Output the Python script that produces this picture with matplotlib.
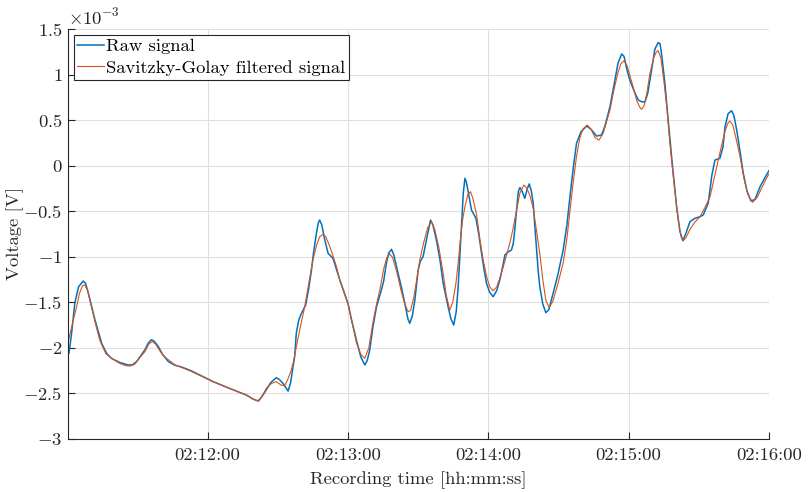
import numpy as np
import pandas as pd
import matplotlib
matplotlib.use("Agg")
import matplotlib.pyplot as plt
import matplotlib.dates as mdates
from matplotlib.ticker import FuncFormatter

# recording start and data (seconds after 02:11:00, voltage in mV)
start = pd.Timestamp("2000-01-01 02:11:00")

raw_t = [0.1, 0.7, 1.8, 3.2, 4.8, 6.8, 7.8, 9.0, 11.8, 14.7, 16.8, 18.9, 22.4, 26.1, 27.9,
         29.6, 31.3, 33.2, 34.8, 36.0, 37.3, 38.9, 40.7, 43.2, 45.9, 48.9, 53.2, 62.3, 69.4,
         76.6, 79.3, 81.5, 83.1, 85.1, 87.0, 89.4, 90.8, 92.2, 94.4, 95.5, 96.5, 97.2, 97.9,
         98.9, 100.1, 101.9, 103.2, 104.4, 105.3, 106.5, 107.3, 107.9, 108.8, 110.1, 111.5,
         113.6, 115.0, 116.5, 118.2, 120.0, 121.6, 123.6, 125.5, 127.2, 128.2, 129.3, 130.6,
         132.2, 134.3, 135.3, 136.4, 137.4, 138.6, 139.6, 141.4, 142.8, 144.3, 145.6, 146.4,
         147.5, 148.6, 150.0, 150.9, 152.1, 153.5, 155.3, 156.3, 157.8, 159.3, 160.7, 162.8,
         164.0, 165.2, 166.3, 167.1, 167.8, 168.5, 169.3, 170.0, 170.6, 171.4, 172.8, 174.7,
         175.9, 177.1, 178.1, 179.2, 180.6, 182.1, 183.6, 184.9, 186.2, 187.1, 188.3, 189.9,
         190.7, 191.3, 192.2, 192.8, 193.5, 194.3, 195.6, 196.7, 197.5, 198.4, 199.2, 199.9,
         201.3, 202.0, 203.3, 204.6, 205.9, 207.7, 209.7, 212.0, 213.6, 214.9, 216.2, 217.7,
         219.6, 222.0, 223.9, 226.3, 228.4, 229.8, 232.0, 233.7, 235.4, 237.0, 238.0, 239.3,
         240.5, 242.3, 244.1, 245.7, 247.0, 248.2, 249.8, 251.2, 252.6, 253.4, 254.2, 255.5,
         256.9, 258.5, 260.5, 261.9, 263.2, 264.5, 266.2, 268.3, 270.5, 271.9, 274.0, 275.6,
         276.9, 279.0, 280.3, 281.2, 282.5, 284.0, 285.0, 286.2, 287.6, 289.0, 290.6, 292.3,
         294.0, 296.2, 298.3, 300.0]
raw_mv = [-2.04, -2.06, -1.85, -1.51, -1.33, -1.266, -1.29, -1.40, -1.69, -1.95, -2.06, -2.115,
          -2.16, -2.188, -2.185, -2.15, -2.09, -2.02, -1.94, -1.91, -1.93, -1.985, -2.07, -2.15,
          -2.19, -2.21, -2.254, -2.37, -2.445, -2.518, -2.56, -2.583, -2.54, -2.46, -2.38,
          -2.327, -2.35, -2.39, -2.474, -2.38, -2.207, -2.1, -1.84, -1.70, -1.62, -1.53, -1.35,
          -1.145, -0.95, -0.743, -0.63, -0.597, -0.65, -0.816, -0.962, -1.017, -1.13, -1.255,
          -1.38, -1.511, -1.70, -1.914, -2.10, -2.188, -2.14, -2.024, -1.78, -1.548, -1.365,
          -1.26, -1.072, -0.96, -0.918, -0.98, -1.18, -1.33, -1.511, -1.68, -1.73, -1.65,
          -1.475, -1.145, -1.05, -1.0, -0.82, -0.597, -0.65, -0.816, -1.03, -1.29, -1.548,
          -1.68, -1.749, -1.60, -1.329, -1.0, -0.67, -0.30, -0.139, -0.18, -0.286, -0.487,
          -0.578, -0.75, -0.962, -1.13, -1.29, -1.39, -1.438, -1.37, -1.255, -1.10, -0.98,
          -0.95, -0.926, -0.85, -0.706, -0.45, -0.286, -0.24, -0.27, -0.358, -0.25, -0.2,
          -0.28, -0.413, -0.67, -1.145, -1.329, -1.52, -1.614, -1.58, -1.4, -1.2, -0.926,
          -0.65, -0.34, -0.05, 0.245, 0.37, 0.435, 0.40, 0.325, 0.336, 0.43, 0.647, 0.88,
          1.12, 1.226, 1.20, 1.05, 0.94, 0.82, 0.72, 0.70, 0.70, 0.80, 1.05, 1.28, 1.35,
          1.34, 1.2, 0.90, 0.5, 0.06, -0.45, -0.72, -0.824, -0.74, -0.615, -0.578, -0.56,
          -0.54, -0.413, -0.1, 0.062, 0.08, 0.2, 0.427, 0.57, 0.603, 0.55, 0.39, 0.16,
          -0.084, -0.28, -0.388, -0.37, -0.23, -0.13, -0.055]

sg_t = [0.1, 1.4, 2.7, 4.0, 5.2, 6.5, 7.5, 8.7, 9.9, 11.8, 13.8, 16.4, 18.9, 22.4, 24.9, 26.8,
        28.8, 30.9, 33.2, 34.8, 36.3, 37.8, 39.5, 41.2, 43.2, 45.9, 48.9, 53.2, 62.3, 69.4,
        76.6, 79.7, 81.9, 83.5, 85.2, 87.3, 89.4, 91.5, 92.9, 94.2, 95.8, 96.8, 97.9, 99.4,
        101.5, 103.2, 105.0, 106.6, 107.9, 109.3, 110.5, 111.8, 113.6, 115.2, 116.5, 118.2,
        120.0, 122.0, 123.7, 125.5, 127.2, 128.9, 130.6, 132.2, 133.6, 135.3, 136.6, 137.9,
        139.1, 140.9, 142.6, 144.3, 145.7, 146.8, 148.1, 149.4, 150.7, 152.4, 154.1, 155.7,
        157.1, 158.8, 160.7, 162.0, 163.5, 164.8, 166.1, 167.1, 168.2, 169.1, 170.0, 171.2,
        172.4, 173.4, 175.0, 176.4, 177.8, 179.4, 180.6, 182.1, 183.6, 185.4, 187.8, 189.2,
        190.5, 192.1, 193.5, 195.2, 196.5, 197.8, 199.2, 200.5, 202.0, 203.3, 204.6, 206.0,
        207.6, 209.7, 212.0, 213.6, 214.9, 216.2, 217.7, 219.1, 220.4, 222.3, 223.9, 225.6,
        227.3, 229.0, 230.3, 232.0, 233.7, 235.4, 236.7, 238.0, 239.3, 240.5, 241.9, 243.5,
        244.8, 245.5, 246.5, 247.8, 249.1, 250.8, 251.9, 252.6, 253.8, 255.1, 256.4, 257.6,
        259.4, 261.1, 262.4, 263.3, 264.5, 266.2, 268.3, 270.5, 272.6, 274.8, 276.9, 279.0,
        281.2, 282.5, 283.3, 284.6, 285.9, 287.6, 289.3, 291.0, 293.0, 294.9, 297.0, 298.7,
        300.0]
sg_mv = [-1.97, -1.82, -1.68, -1.548, -1.40, -1.32, -1.31, -1.37, -1.50, -1.71, -1.91, -2.06,
         -2.115, -2.17, -2.195, -2.2, -2.18, -2.11, -2.04, -1.96, -1.93, -1.96, -2.03, -2.09,
         -2.13, -2.185, -2.215, -2.26, -2.37, -2.445, -2.518, -2.565, -2.583, -2.52, -2.44,
         -2.39, -2.37, -2.41, -2.415, -2.35, -2.243, -2.14, -1.99, -1.80, -1.548, -1.30,
         -1.036, -0.87, -0.78, -0.754, -0.78, -0.86, -0.99, -1.12, -1.255, -1.38, -1.52,
         -1.75, -1.95, -2.07, -2.115, -2.00, -1.73, -1.52, -1.365, -1.13, -1.01, -0.97,
         -1.01, -1.17, -1.36, -1.52, -1.603, -1.59, -1.45, -1.25, -1.036, -0.84, -0.68,
         -0.615, -0.70, -0.89, -1.18, -1.42, -1.585, -1.50, -1.30, -1.07, -0.77, -0.58,
         -0.45, -0.32, -0.286, -0.36, -0.54, -0.81, -1.036, -1.23, -1.33, -1.373, -1.33,
         -1.20, -0.98, -0.85, -0.70, -0.487, -0.30, -0.212, -0.25, -0.33, -0.468, -0.70,
         -0.962, -1.25, -1.48, -1.555, -1.49, -1.30, -1.07, -0.80, -0.50, -0.20, 0.1, 0.30,
         0.40, 0.446, 0.40, 0.31, 0.28, 0.35, 0.46, 0.61, 0.83, 1.02, 1.12, 1.152, 1.10,
         0.99, 0.867, 0.71, 0.64, 0.62, 0.65, 0.80, 1.014, 1.19, 1.25, 1.262, 1.18, 0.92,
         0.62, 0.25, -0.20, -0.58, -0.78, -0.824, -0.79, -0.70, -0.62, -0.56, -0.46, -0.34,
         -0.10, 0.14, 0.38, 0.47, 0.49, 0.44, 0.30, 0.1, -0.14, -0.32, -0.402, -0.35, -0.24,
         -0.15, -0.09]

y_ticks = [-3, -2.5, -2, -1.5, -1, -0.5, 0, 0.5, 1, 1.5]

plt.rcParams["font.family"] = "serif"
plt.rcParams["font.serif"] = ["cmr10"]
plt.rcParams["mathtext.fontset"] = "cm"
plt.rcParams["axes.unicode_minus"] = False

dark = "#262626"
fs = 13.4

raw_time = start + pd.to_timedelta(raw_t, unit="s")
sg_time = start + pd.to_timedelta(sg_t, unit="s")

fig = plt.figure(figsize=(8.08, 4.92), dpi=100)
ax = fig.add_axes([68 / 808, 53 / 492, 701 / 808, 410 / 492])

ax.plot(raw_time, np.array(raw_mv) * 1e-3, color="#0072BD", lw=1.1, label="Raw signal")
ax.plot(sg_time, np.array(sg_mv) * 1e-3, color="#D95319", lw=0.8,
        label="Savitzky-Golay filtered signal")

ax.set_xlim(start + pd.Timedelta(seconds=0.3), start + pd.Timedelta(seconds=300))
ax.set_ylim(-3e-3, 1.5e-3)
ax.set_yticks(np.array(y_ticks) * 1e-3)
ax.yaxis.set_major_formatter(FuncFormatter(lambda v, p: "$%g$" % round(v * 1e3, 3)))
ax.xaxis.set_major_locator(mdates.MinuteLocator())
ax.xaxis.set_major_formatter(mdates.DateFormatter("%H:%M:%S"))

ax.text(0, 1.004, r"$\times10^{-3}$", transform=ax.transAxes, ha="left", va="bottom",
        fontsize=fs, color=dark)

ax.grid(True, color="#E0E0E0", lw=0.8)
ax.set_axisbelow(True)
for side in ["top", "right"]:
    ax.spines[side].set_visible(False)
for side in ["left", "bottom"]:
    ax.spines[side].set_color(dark)
    ax.spines[side].set_linewidth(0.8)
ax.tick_params(direction="in", length=5, width=0.8, color=dark, labelcolor=dark,
               labelsize=fs, pad=4)
ax.tick_params(axis="x", pad=6)

ax.set_xlabel("Recording time [hh:mm:ss]", fontsize=fs, color=dark)
ax.set_ylabel("Voltage [V]", fontsize=fs, color=dark)
ax.xaxis.set_label_coords(0.5, -0.078)
ax.yaxis.set_label_coords(-0.063, 0.5)

leg = ax.legend(loc="upper left", fontsize=fs, fancybox=False, framealpha=1,
                edgecolor=dark, borderaxespad=0.3, handlelength=1.45, handletextpad=0.1,
                labelspacing=0.3, borderpad=0.2)
leg.get_frame().set_linewidth(0.8)

fig.savefig("out.png", dpi=100)
